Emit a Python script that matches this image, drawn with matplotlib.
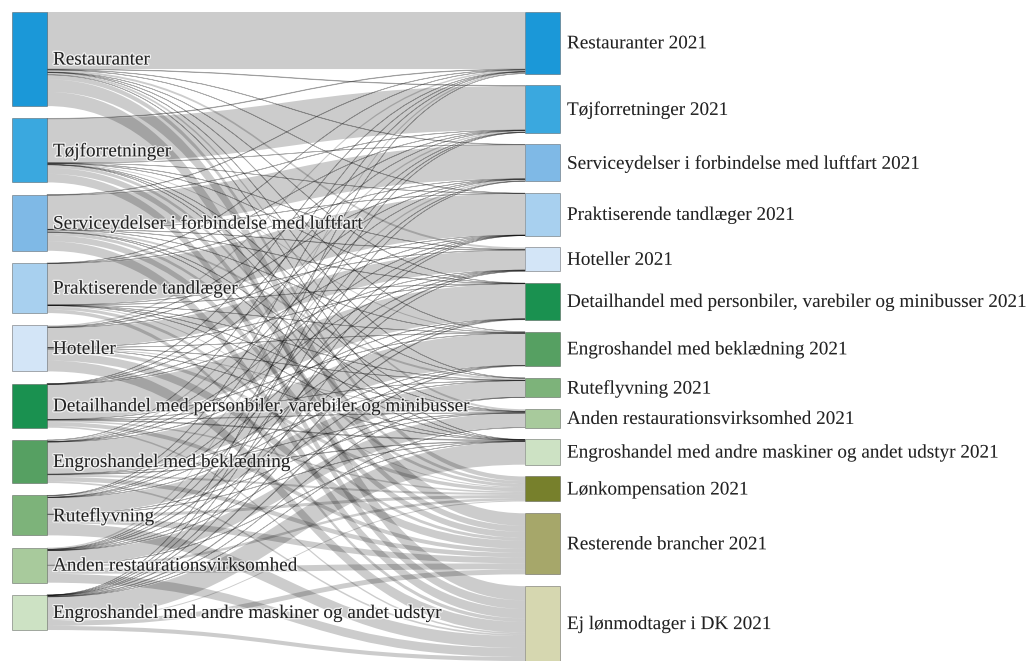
import numpy as np
import matplotlib
matplotlib.use("Agg")
import matplotlib.pyplot as plt
from matplotlib.path import Path
from matplotlib.patches import PathPatch, Rectangle
import matplotlib.patheffects as pe

plt.rcParams['font.family'] = ['Liberation Serif', 'DejaVu Serif']

# Brancher (kilde-noder, venstre side)
sources = [
    "Restauranter",
    "Tøjforretninger",
    "Serviceydelser i forbindelse med luftfart",
    "Praktiserende tandlæger",
    "Hoteller",
    "Detailhandel med personbiler, varebiler og minibusser",
    "Engroshandel med beklædning",
    "Ruteflyvning",
    "Anden restaurationsvirksomhed",
    "Engroshandel med andre maskiner og andet udstyr",
]

# Mål-noder (højre side)
targets = [s + " 2021" for s in sources] + [
    "Lønkompensation 2021",
    "Resterende brancher 2021",
    "Ej lønmodtager i DK 2021",
]

source_colors = ["#1b98d8", "#3aa8df", "#7fb9e6", "#a8d0ef", "#d3e5f7",
                 "#1a9150", "#56a062", "#7db37a", "#a8ca9c", "#cde2c4"]
target_colors = source_colors + ["#77802c", "#a6a76a", "#d6d7b0"]

# Strømme: én række pr. kilde, én kolonne pr. mål (aflæst skøn)
flows = [
    [57.0, 0.5, 0.3, 0.2, 2.0, 0.2, 0.2, 0.2, 2.0, 0.2, 4.5, 12.5, 14.2],
    [0.5, 44.0, 0.1, 0.1, 0.2, 0.1, 1.0, 0.1, 0.2, 0.1, 3.0, 6.0, 8.6],
    [0.3, 0.2, 34.0, 0.1, 0.3, 0.2, 0.1, 2.0, 0.2, 0.2, 3.0, 6.0, 9.4],
    [0.2, 0.1, 0.1, 41.5, 0.1, 0.1, 0.1, 0.1, 0.1, 0.1, 1.0, 3.0, 3.5],
    [1.5, 0.3, 0.3, 0.1, 20.0, 0.1, 0.1, 0.2, 1.0, 0.1, 3.5, 8.0, 10.8],
    [0.2, 0.1, 0.2, 0.1, 0.1, 35.0, 0.2, 0.1, 0.1, 0.8, 1.5, 4.0, 1.6],
    [0.1, 1.5, 0.1, 0.1, 0.1, 0.2, 32.0, 0.1, 0.1, 0.5, 2.0, 4.5, 1.7],
    [0.2, 0.1, 1.5, 0.1, 0.2, 0.1, 0.1, 16.5, 0.1, 0.1, 3.0, 6.0, 12.0],
    [1.5, 0.2, 0.2, 0.1, 0.7, 0.1, 0.1, 0.1, 14.5, 0.1, 2.5, 6.0, 8.9],
    [0.1, 0.1, 0.1, 0.1, 0.1, 0.6, 0.6, 0.1, 0.1, 23.0, 1.0, 5.0, 4.1],
]

# Layout (pixels)
W, H = 1027, 661
x_left, x_right, node_w = 12, 525, 35
top, bottom = 12, 661
gap_right = 11.8

F = np.array(flows)
src_tot = F.sum(axis=1)
tgt_tot = F.sum(axis=0)
k = (bottom - top - gap_right * (len(targets) - 1)) / tgt_tot.sum()
gap_left = (630 - top - k * src_tot.sum()) / (len(sources) - 1)


def stack(totals, gap):
    ys, y = [], top
    for t in totals:
        ys.append(y)
        y += t * k + gap
    return np.array(ys)


src_y = stack(src_tot, gap_left)
tgt_y = stack(tgt_tot, gap_right)

fig = plt.figure(figsize=(W / 100, H / 100), dpi=100)
ax = fig.add_axes([0, 0, 1, 1])
ax.set_xlim(0, W)
ax.set_ylim(H, 0)
ax.axis("off")

# links
x0 = x_left + node_w
x1 = x_right
xm = (x0 + x1) / 2
src_off = src_y.copy()
tgt_off = tgt_y.copy()
for i in range(len(sources)):
    for j in range(len(targets)):
        v = F[i, j]
        h = v * k
        y0 = src_off[i]
        y1 = tgt_off[j]
        src_off[i] += h
        tgt_off[j] += h
        verts = [(x0, y0), (xm, y0), (xm, y1), (x1, y1),
                 (x1, y1 + h), (xm, y1 + h), (xm, y0 + h), (x0, y0 + h), (x0, y0)]
        codes = [Path.MOVETO, Path.CURVE4, Path.CURVE4, Path.CURVE4,
                 Path.LINETO, Path.CURVE4, Path.CURVE4, Path.CURVE4, Path.CLOSEPOLY]
        if h < 1:
            ax.add_patch(PathPatch(Path(verts, codes), facecolor=(0, 0, 0, 0.2),
                                   edgecolor=(0, 0, 0, 0.3), lw=0.5, zorder=1))
        else:
            ax.add_patch(PathPatch(Path(verts, codes), facecolor=(0, 0, 0, 0.2),
                                   edgecolor="none", zorder=1))

# nodes + labels
halo = [pe.withStroke(linewidth=2, foreground="white", alpha=0.7)]
fs = 13.8
for i, name in enumerate(sources):
    ax.add_patch(Rectangle((x_left, src_y[i]), node_w, src_tot[i] * k,
                           facecolor=source_colors[i], edgecolor=(0.27, 0.27, 0.27, 0.5),
                           lw=0.6, zorder=2))
    ax.text(x_left + node_w + 6, src_y[i] + src_tot[i] * k / 2 + 1, name,
            fontsize=fs, va="center", ha="left", color="#222", path_effects=halo, zorder=3)

for j, name in enumerate(targets):
    ax.add_patch(Rectangle((x_right, tgt_y[j]), node_w, tgt_tot[j] * k,
                           facecolor=target_colors[j], edgecolor=(0.27, 0.27, 0.27, 0.5),
                           lw=0.6, zorder=2))
    ax.text(x_right + node_w + 7, tgt_y[j] + tgt_tot[j] * k / 2 + 1, name,
            fontsize=fs, va="center", ha="left", color="#222", path_effects=halo, zorder=3)

fig.savefig("out.png", dpi=100)
